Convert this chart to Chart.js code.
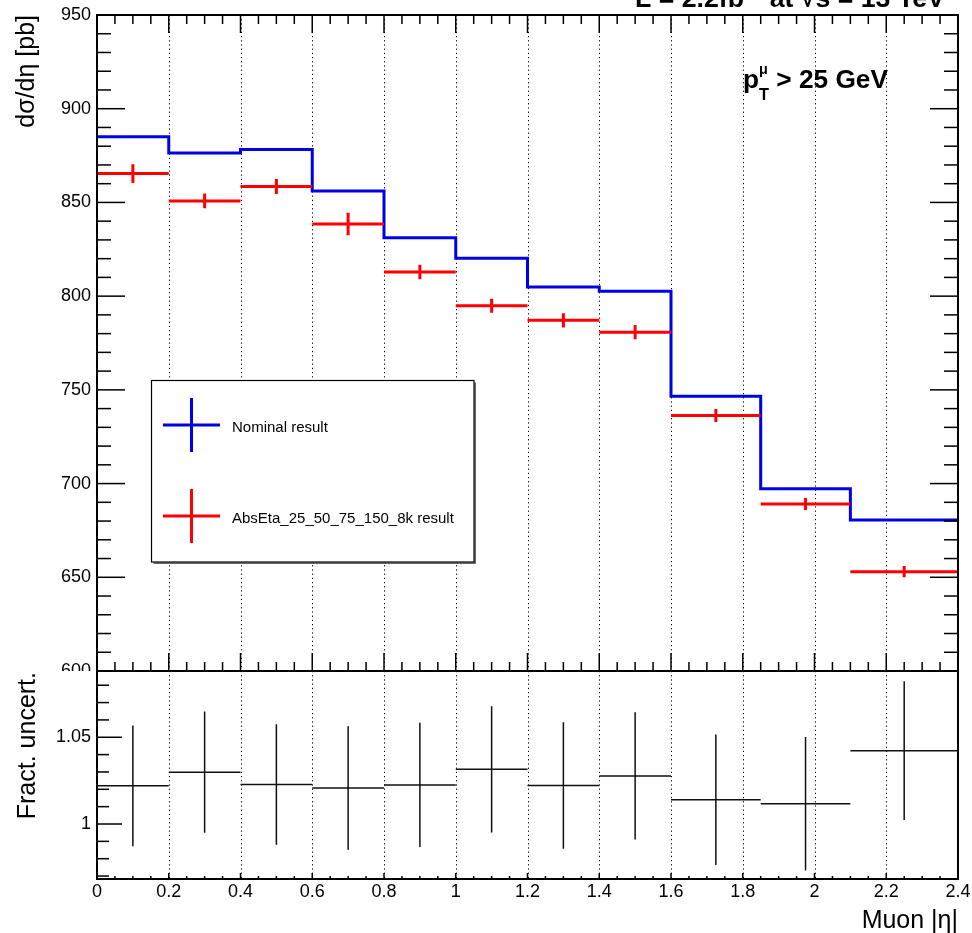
<!DOCTYPE html>
<html><head><meta charset="utf-8">
<script src="https://cdn.jsdelivr.net/npm/chart.js@4.4.1/dist/chart.umd.min.js"></script>
<style>
html,body{margin:0;padding:0;background:#fff;}
#wrap{position:relative;width:972px;height:933px;overflow:hidden;background:#fff;}
#top{position:absolute;left:0;top:0;}
#bot{position:absolute;left:0;top:671px;background:#fff;}
</style></head><body>
<div id="wrap"><canvas id="top" width="972" height="700"></canvas><canvas id="bot" width="972" height="262"></canvas></div>
<script>
// ---------------- data ----------------
const binEdges   = [0, 0.2, 0.4, 0.6, 0.8, 1.0, 1.2, 1.4, 1.6, 1.85, 2.1, 2.4];
const binCenters = [0.1, 0.3, 0.5, 0.7, 0.9, 1.1, 1.3, 1.5, 1.725, 1.975, 2.25];
const nominal    = [885.0, 876.4, 878.2, 856.1, 831.2, 820.2, 804.9, 802.6, 746.6, 697.3, 680.6];
const altResult  = [865.4, 850.8, 858.5, 838.5, 812.9, 794.9, 787.1, 780.8, 736.3, 689.1, 653.0];
const altError   = [5.0, 3.9, 4.0, 6.0, 3.9, 3.7, 3.8, 3.8, 3.5, 3.2, 3.0];
const ratio      = [1.0220, 1.0299, 1.0228, 1.0207, 1.0225, 1.0315, 1.0222, 1.0277, 1.0140, 1.0117, 1.0423];
const ratioError = [0.0348, 0.0350, 0.0347, 0.0356, 0.0358, 0.0364, 0.0365, 0.0367, 0.0376, 0.0385, 0.0400];
const xTicks       = [0, 0.2, 0.4, 0.6, 0.8, 1, 1.2, 1.4, 1.6, 1.8, 2, 2.2, 2.4];
const yTicksTop    = [600, 650, 700, 750, 800, 850, 900, 950];
const yTicksBottom = [1, 1.05];
const legendLabels = ['Nominal result', 'AbsEta_25_50_75_150_8k result'];
const yTitleTop = 'dσ/dη [pb]';
const yTitleBottom = 'Fract. uncert.';
const xTitle = 'Muon |η|';

const FAM = '"Liberation Sans", Arial, Helvetica, sans-serif';
const BLUE = '#0000e6', RED = '#ff0000';

// --------- build line tables from arrays ---------
function stepPoints(edges, vals) {
  const pts = vals.map((v, i) => ({x: edges[i], y: v}));
  pts.push({x: edges[edges.length - 1], y: vals[vals.length - 1]});
  return pts;
}
function errorBarPoints(edges, centers, vals, errs) {
  const pts = [];
  vals.forEach((v, i) => {
    pts.push({x: edges[i], y: v}, {x: edges[i + 1], y: v}, {x: edges[i + 1], y: null});
    pts.push({x: centers[i], y: v - errs[i]}, {x: centers[i], y: v + errs[i]}, {x: centers[i], y: null});
  });
  return pts;
}
function range(min, max, step) {
  const out = [];
  const n0 = Math.ceil(min / step - 1e-7), n1 = Math.floor(max / step + 1e-7);
  for (let i = n0; i <= n1; i++) out.push(+(i * step).toFixed(6));
  return out;
}

// --------- ROOT-like frame / ticks / grid plugin ---------
function framePlugin(cfg) {
  return {
    id: 'rootFrame' + cfg.name,
    beforeDatasetsDraw(chart) {
      const {ctx, chartArea: a, scales: {x}} = chart;
      ctx.save();
      ctx.strokeStyle = '#000'; ctx.lineWidth = 1; ctx.setLineDash([1.2, 3]);
      xTicks.forEach(v => {
        if (v <= x.min + 1e-6 || v >= x.max - 1e-6) return;
        const px = Math.round(x.getPixelForValue(v)) + 0.5;
        ctx.beginPath(); ctx.moveTo(px, a.top); ctx.lineTo(px, a.bottom); ctx.stroke();
      });
      ctx.restore();
    },
    afterDatasetsDraw(chart) {
      const {ctx, chartArea: a, scales: {x, y}} = chart;
      ctx.save();
      ctx.strokeStyle = '#000'; ctx.lineWidth = 1.5;
      const line = (x1, y1, x2, y2) => { ctx.beginPath(); ctx.moveTo(x1, y1); ctx.lineTo(x2, y2); ctx.stroke(); };
      const xMaj = range(x.min, x.max, 0.2), xMin = range(x.min, x.max, 0.05);
      xMin.forEach(v => {
        const isMaj = xMaj.some(m => Math.abs(m - v) < 1e-6);
        const px = x.getPixelForValue(v);
        const len = isMaj ? cfg.xMaj : cfg.xMin;
        if (cfg.xBottom) line(px, a.bottom, px, a.bottom - len);
        if (cfg.xTop) line(px, a.top, px, a.top + len);
      });
      const yMaj = range(y.min, y.max, cfg.yMajStep), yMin = range(y.min, y.max, cfg.yMinStep);
      yMin.forEach(v => {
        if (Math.abs(v - y.min) < 1e-6 || Math.abs(v - y.max) < 1e-6) return;
        const isMaj = yMaj.some(m => Math.abs(m - v) < 1e-6);
        const py = y.getPixelForValue(v);
        const len = isMaj ? cfg.yMaj : cfg.yMin;
        line(a.left, py, a.left + len, py);
        if (cfg.yRight) line(a.right, py, a.right - len, py);
      });
      ctx.lineWidth = 2;
      ctx.strokeRect(a.left, a.top, a.right - a.left, a.bottom - a.top);
      ctx.restore();
    },
    afterDraw(chart) { if (cfg.extra) cfg.extra(chart); }
  };
}

function drawParts(ctx, parts, x, y, base, measureOnly) {
  let cx = x;
  parts.forEach(p => {
    if (p.stack) {
      let w = 0;
      p.stack.forEach(q => {
        ctx.font = 'bold ' + (base * q.s) + 'px ' + FAM;
        if (!measureOnly) ctx.fillText(q.t, cx, y + q.dy * base);
        w = Math.max(w, ctx.measureText(q.t).width);
      });
      cx += w;
    } else {
      ctx.font = 'bold ' + (base * p.s) + 'px ' + FAM;
      if (!measureOnly) ctx.fillText(p.t, cx, y + (p.dy || 0) * base);
      cx += ctx.measureText(p.t).width;
    }
  });
  return cx - x;
}
function drawFitted(ctx, parts, x, y, width, base) {
  const w = drawParts(ctx, parts, x, y, base, true);
  drawParts(ctx, parts, x, y, base * width / w, false);
}

function topExtra(chart) {
  const ctx = chart.ctx;
  ctx.save();
  ctx.fillStyle = '#000'; ctx.textBaseline = 'alphabetic'; ctx.textAlign = 'left';
  drawFitted(ctx, [
    {t: 'L = 2.2fb', s: 1}, {t: '−1', s: 0.6, dy: -0.45}, {t: ' at ', s: 1},
    {t: '√', s: 1}, {t: 's = 13 TeV', s: 1}
  ], 635, 7, 310, 24);
  drawFitted(ctx, [
    {t: 'p', s: 1},
    {stack: [{t: 'T', s: 0.62, dy: 0.46}, {t: 'μ', s: 0.55, dy: -0.55}]},
    {t: ' > 25 GeV', s: 1}
  ], 743, 88, 145, 26);
  ctx.save();
  ctx.translate(34, 15); ctx.rotate(-Math.PI / 2);
  ctx.font = '25px ' + FAM; ctx.textAlign = 'right';
  ctx.fillText(yTitleTop, 0, 0);
  ctx.restore();
  const L = 151.5, T = 380.5, R = 474, B = 562;
  ctx.fillStyle = '#fff'; ctx.fillRect(L, T, R - L, B - T);
  ctx.strokeStyle = '#000'; ctx.lineWidth = 1.2; ctx.strokeRect(L, T, R - L, B - T);
  ctx.strokeStyle = '#333'; ctx.lineWidth = 1.5;
  ctx.beginPath(); ctx.moveTo(L + 2, B + 1); ctx.lineTo(R + 1, B + 1); ctx.lineTo(R + 1, T + 2); ctx.stroke();
  const entries = [{c: BLUE, y: 425, label: legendLabels[0]}, {c: RED, y: 516, label: legendLabels[1]}];
  entries.forEach(e => {
    ctx.strokeStyle = e.c; ctx.lineWidth = 3;
    ctx.beginPath(); ctx.moveTo(163, e.y); ctx.lineTo(220, e.y); ctx.stroke();
    ctx.beginPath(); ctx.moveTo(191.5, e.y - 27); ctx.lineTo(191.5, e.y + 27); ctx.stroke();
    ctx.fillStyle = '#000'; ctx.font = '15px ' + FAM; ctx.textAlign = 'left';
    ctx.fillText(e.label, 232, e.y + 6.5);
  });
  ctx.restore();
}
function botExtra(chart) {
  const ctx = chart.ctx;
  ctx.save();
  ctx.fillStyle = '#000';
  ctx.translate(35, 1); ctx.rotate(-Math.PI / 2);
  ctx.font = '25px ' + FAM; ctx.textAlign = 'right'; ctx.textBaseline = 'alphabetic';
  ctx.fillText(yTitleBottom, 0, 0);
  ctx.restore();
  ctx.save();
  ctx.fillStyle = '#000'; ctx.font = '25px ' + FAM; ctx.textAlign = 'right'; ctx.textBaseline = 'alphabetic';
  ctx.fillText(xTitle, 958, 928 - 671);
  ctx.restore();
}

const noPad = s => { s.paddingTop = 0; s.paddingBottom = 0; s.paddingLeft = 0; s.paddingRight = 0; };
const tickFont = {family: FAM, size: 18};

// ---------------- top chart ----------------
new Chart(document.getElementById('top'), {
  type: 'scatter',
  data: {datasets: [
    {data: errorBarPoints(binEdges, binCenters, altResult, altError), showLine: true, borderColor: RED,
     borderWidth: 3, pointRadius: 0, spanGaps: false, borderCapStyle: 'butt'},
    {data: stepPoints(binEdges, nominal), showLine: true, stepped: 'before', borderColor: BLUE,
     borderWidth: 3, pointRadius: 0, borderJoinStyle: 'miter'}
  ]},
  options: {
    responsive: false, animation: false, devicePixelRatio: 1,
    layout: {padding: {top: 15, right: 14, bottom: 29, left: 0}},
    plugins: {legend: {display: false}, tooltip: {enabled: false}},
    scales: {
      x: {type: 'linear', min: 0, max: 2.4, display: false},
      y: {type: 'linear', min: 600, max: 950,
          afterBuildTicks: s => { s.ticks = yTicksTop.map(v => ({value: v})); },
          afterFit: s => { s.width = 97; noPad(s); },
          grid: {display: false, drawTicks: false}, border: {display: false},
          ticks: {color: '#000', font: tickFont, padding: 6, autoSkip: false, callback: v => String(v)}}
    }
  },
  plugins: [framePlugin({name: 'top', xTop: true, xBottom: true, xMaj: 18, xMin: 9,
    yMajStep: 50, yMinStep: 10, yMaj: 28, yMin: 14, yRight: true, extra: topExtra})]
});

// ---------------- bottom chart ----------------
new Chart(document.getElementById('bot'), {
  type: 'scatter',
  data: {datasets: [
    {data: errorBarPoints(binEdges, binCenters, ratio, ratioError), showLine: true, borderColor: '#111',
     borderWidth: 1.5, pointRadius: 0, spanGaps: false, borderCapStyle: 'butt'}
  ]},
  options: {
    responsive: false, animation: false, devicePixelRatio: 1,
    layout: {padding: {top: 0, right: 14, bottom: 0, left: 0}},
    plugins: {legend: {display: false}, tooltip: {enabled: false}},
    scales: {
      x: {type: 'linear', min: 0, max: 2.4,
          afterBuildTicks: s => { s.ticks = xTicks.map(v => ({value: v})); },
          afterFit: s => { s.height = 54; noPad(s); },
          grid: {display: false, drawTicks: false}, border: {display: false},
          ticks: {color: '#000', font: tickFont, padding: 2, autoSkip: false, maxRotation: 0, callback: v => String(v)}},
      y: {type: 'linear', min: 0.9683, max: 1.0882,
          afterBuildTicks: s => { s.ticks = yTicksBottom.map(v => ({value: v})); },
          afterFit: s => { s.width = 97; noPad(s); },
          grid: {display: false, drawTicks: false}, border: {display: false},
          ticks: {color: '#000', font: tickFont, padding: 6, autoSkip: false, callback: v => String(v)}}
    }
  },
  plugins: [framePlugin({name: 'bot', xTop: false, xBottom: true, xMaj: 6, xMin: 3,
    yMajStep: 0.05, yMinStep: 0.01, yMaj: 25, yMin: 12, yRight: false, extra: botExtra})]
});
</script>
</body></html>
